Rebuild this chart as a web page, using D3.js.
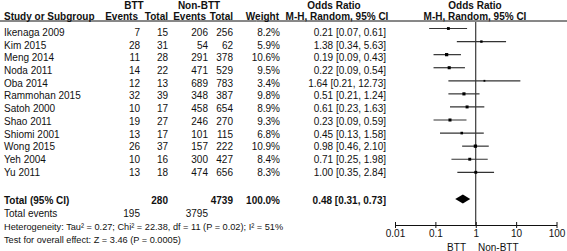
<!DOCTYPE html>
<html>
<head>
<meta charset="UTF-8">
<script src="https://cdn.jsdelivr.net/npm/d3@7"></script>
<style>
  body { margin: 0; background: #fff; }
  svg { font-family: "Liberation Sans", Arial, sans-serif; font-size: 10px; }
  .b { font-weight: bold; }
  .sm { font-size: 9.2px; }
</style>
</head>
<body>
<div id="container"></div>
<script>
// study rows
const studies = ["Ikenaga 2009", "Kim 2015", "Meng 2014", "Noda 2011", "Oba 2014", "Rammohan 2015",
  "Satoh 2000", "Shao 2011", "Shiomi 2001", "Wong 2015", "Yeh 2004", "Yu 2011"];
const bttEvents = [7, 28, 11, 14, 12, 32, 10, 19, 13, 26, 10, 13];
const bttTotal = [15, 31, 28, 22, 13, 39, 17, 27, 17, 37, 16, 18];
const nonEvents = [206, 54, 291, 471, 689, 348, 458, 246, 101, 157, 300, 474];
const nonTotal = [256, 62, 378, 529, 783, 387, 654, 270, 115, 222, 427, 656];
const weights = [8.2, 5.9, 10.6, 9.5, 3.4, 9.8, 8.9, 9.3, 6.8, 10.9, 8.4, 8.3];
const orVal = [0.21, 1.38, 0.19, 0.22, 1.64, 0.51, 0.61, 0.23, 0.45, 0.98, 0.71, 1.00];
const ciLow = [0.07, 0.34, 0.09, 0.09, 0.21, 0.21, 0.23, 0.09, 0.13, 0.46, 0.25, 0.35];
const ciHigh = [0.61, 5.63, 0.43, 0.54, 12.73, 1.24, 1.63, 0.59, 1.58, 2.10, 1.98, 2.84];

// pooled
const total = { btt: 280, non: 4739, weight: "100.0%", or: 0.48, lo: 0.31, hi: 0.73 };
const totalEvents = { btt: 195, non: 3795 };
const heterogeneity = "Heterogeneity: Tau\u00b2 = 0.27; Chi\u00b2 = 22.38, df = 11 (P = 0.02); I\u00b2 = 51%";
const overall = "Test for overall effect: Z = 3.46 (P = 0.0005)";
const axisTicks = [0.01, 0.1, 1, 10, 100];

const width = 567, height = 251;
const svg = d3.select("#container").append("svg")
  .attr("width", width).attr("height", height);

const ink = "#111";
const f2 = d3.format(".2f");

// row scales (text rows and plot rows sit slightly apart)
const yText = d3.scalePoint().domain(d3.range(studies.length)).range([32.3, 172.3]);
const yPlot = d3.scalePoint().domain(d3.range(studies.length)).range([28.5, 172.3]);
const x = d3.scaleLog().domain([0.01, 100]).range([395, 556.5]);

function txt(xp, yp, s, anchor, cls) {
  return svg.append("text").attr("x", xp).attr("y", yp).attr("dy", "0.35em")
    .attr("text-anchor", anchor || "start").attr("class", cls || null)
    .attr("fill", ink).text(s);
}

// headers
txt(134, 5, "BTT", "middle", "b");
txt(199, 5, "Non-BTT", "middle", "b");
txt(334, 5, "Odds Ratio", "middle", "b");
txt(475, 5, "Odds Ratio", "middle", "b");
txt(4, 16.5, "Study or Subgroup", "start", "b");
txt(138, 16.5, "Events", "end", "b");
txt(168, 16.5, "Total", "end", "b");
txt(206, 16.5, "Events", "end", "b");
txt(233, 16.5, "Total", "end", "b");
txt(279, 16.5, "Weight", "end", "b");
txt(337, 16.5, "M-H, Random, 95% CI", "middle", "b");
txt(475, 16.5, "M-H, Random, 95% CI", "middle", "b");

svg.append("line").attr("x1", 0).attr("x2", width).attr("y1", 21).attr("y2", 21)
  .attr("stroke", ink).attr("stroke-width", 1);

// study table
const cols = [
  [4, "start", i => studies[i]],
  [140, "end", i => bttEvents[i]],
  [168, "end", i => bttTotal[i]],
  [208, "end", i => nonEvents[i]],
  [233, "end", i => nonTotal[i]],
  [280, "end", i => weights[i].toFixed(1) + "%"],
  [386, "end", i => `${f2(orVal[i])} [${f2(ciLow[i])}, ${f2(ciHigh[i])}]`]
];
cols.forEach(([cx, anchor, fn]) => {
  svg.append("g").selectAll("text").data(d3.range(studies.length)).join("text")
    .attr("x", cx).attr("y", i => yText(i)).attr("dy", "0.35em")
    .attr("text-anchor", anchor).attr("fill", ink).text(fn);
});

// totals
const yTot = 200;
txt(4, yTot, "Total (95% CI)", "start", "b");
txt(168, yTot, total.btt, "end", "b");
txt(233, yTot, total.non, "end", "b");
txt(280, yTot, total.weight, "end", "b");
txt(386, yTot, `${f2(total.or)} [${f2(total.lo)}, ${f2(total.hi)}]`, "end", "b");
txt(4, 213.5, "Total events");
txt(140, 213.5, totalEvents.btt, "end");
txt(208, 213.5, totalEvents.non, "end");
txt(4, 227, heterogeneity, "start", "sm");
txt(4, 240, overall, "start", "sm");

// forest plot
const gp = svg.append("g");
gp.append("line").attr("x1", x(1)).attr("x2", x(1)).attr("y1", 22).attr("y2", 225)
  .attr("stroke", ink).attr("stroke-width", 1);

gp.selectAll("line.ci").data(d3.range(studies.length)).join("line")
  .attr("class", "ci")
  .attr("x1", i => x(ciLow[i])).attr("x2", i => x(ciHigh[i]))
  .attr("y1", i => yPlot(i)).attr("y2", i => yPlot(i))
  .attr("stroke", "#333").attr("stroke-width", 1.2);

const side = d3.scaleSqrt().domain([0, 11]).range([0, 3.3]);
gp.selectAll("rect").data(d3.range(studies.length)).join("rect")
  .attr("x", i => x(orVal[i]) - side(weights[i]) / 2)
  .attr("y", i => yPlot(i) - side(weights[i]) / 2)
  .attr("width", i => side(weights[i])).attr("height", i => side(weights[i]))
  .attr("fill", "#000");

const yDia = 199;
gp.append("path")
  .attr("d", `M${x(total.lo)},${yDia} L${x(total.or)},${yDia - 4.5} L${x(total.hi)},${yDia} L${x(total.or)},${yDia + 4.5} Z`)
  .attr("fill", "#000");

// axis
const ga = svg.append("g").attr("transform", "translate(0,225)")
  .call(d3.axisBottom(x).tickValues(axisTicks).tickFormat(d => String(d))
    .tickSize(3).tickSizeOuter(0).tickPadding(2));
ga.select(".domain").attr("stroke", ink);
ga.selectAll(".tick line").attr("y1", -3).attr("stroke", ink);
ga.selectAll(".tick text").attr("fill", ink)
  .style("font-family", "'Liberation Sans', Arial, sans-serif").style("font-size", "10px");

txt(466, 247, "BTT", "end");
txt(478, 247, "Non-BTT", "start");
</script>
</body>
</html>
